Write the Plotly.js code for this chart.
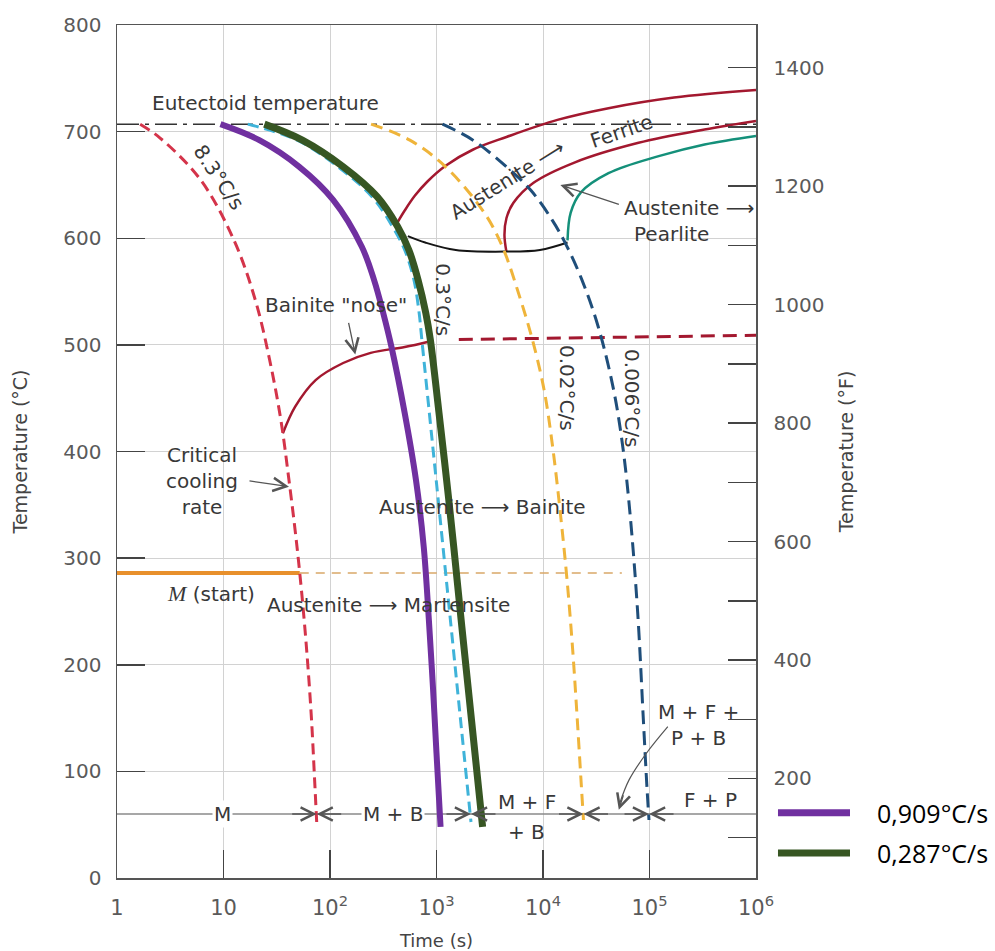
<!DOCTYPE html>
<html><head><meta charset="utf-8">
<script src="https://cdn.plot.ly/plotly-3.0.1.min.js"></script>
<style>html,body{margin:0;padding:0;background:#fff;}</style>
</head><body><div id="chart" style="width:995px;height:951px;"></div>
<script>
// ---------- data (time in s, temperature in °C) ----------
const eutectoidT = 707;
const msT = 286;            // M(start)
const markerT = 60;         // level of the product-region arrows
const xTickVals = [1, 10, 100, 1000, 10000, 100000, 1000000];
const xTickText = ['1', '10', '10<sup>2</sup>', '10<sup>3</sup>', '10<sup>4</sup>', '10<sup>5</sup>', '10<sup>6</sup>'];
const yTickVals = [0, 100, 200, 300, 400, 500, 600, 700, 800];
const fTickVals = [100, 200, 300, 400, 500, 600, 700, 800, 900, 1000, 1100, 1200, 1300, 1400];

// 8.3 °C/s (critical cooling rate)
const t83 = [1.65, 2.54, 6.07, 12.5, 19.9, 27.1, 34.5, 41.2, 48.2, 55.0, 61.4, 67.1, 71.7, 75.0];
const T83 = [707, 694, 655, 598.5, 542, 486, 430, 373, 317, 261, 204.5, 148, 92, 52.5];
// 0.3 °C/s
const t03 = [16.9, 49.2, 119, 248, 386, 503, 614, 687, 728, 857, 994, 1151, 1330, 1683, 2108];
const T03 = [707, 692, 667, 639, 611, 589, 561, 530, 505, 436, 373, 310.5, 248.6, 148, 52.5];
// 0.02 °C/s
const t002 = [243, 562, 1218, 2806, 4160, 6040, 7943, 10230, 12330, 14560, 16820, 19000, 21000, 22950, 23990];
const T002 = [707, 692, 667, 624, 592, 545, 505, 458, 404, 342, 279.5, 214, 148, 85.4, 54.4];
// 0.006 °C/s
const t0006 = [1140, 2203, 4540, 7690, 12210, 16280, 23200, 33000, 46000, 56200, 65600, 77500, 87600, 94600, 98900];
const T0006 = [707, 692, 667, 645, 617, 595, 561, 517, 458, 404, 342, 248.6, 148, 85.4, 54.4];
// measured curves
const t0909 = [9.37, 21.7, 51.5, 107, 199, 259, 316, 378, 503, 642, 759, 848, 926, 1000, 1092];
const T0909 = [707, 692, 667, 636, 592, 561, 530, 498, 436, 373, 310.5, 242, 179, 117, 48];
const t0287 = [24.2, 55.0, 133, 277, 431, 550, 671, 793, 875, 1056, 1245, 1452, 1730, 2132, 2710];
const T0287 = [707, 692, 667, 639, 611, 589, 561, 530, 505, 436, 373, 310.5, 235.5, 148, 48];
// transformation boundaries
const tBainite = [36.1, 47.1, 73.3, 133, 241, 503, 838];
const TBainite = [417, 442, 467, 483, 492.5, 498, 503];
const tBainiteD = [1620, 1000000];
const TBainiteD = [505, 509];
const tFerrite = [431, 503, 628, 818, 1218, 2188, 4540, 13650, 41200, 170000, 1000000];
const TFerrite = [615, 626, 640, 653, 668, 683, 695, 711, 722, 732, 739];
const tPearlite = [4540, 4345, 4540, 5260, 8150, 19720, 78900, 329000, 1000000];
const TPearlite = [587, 603, 619, 633, 652, 671, 689.5, 702, 710];
const tNose = [538, 783, 1517, 4540, 9360, 17000];
const TNose = [602, 596, 589, 587.5, 589, 596];
const tFinish = [17000, 18200, 22700, 41200, 122000, 329000, 1000000];
const TFinish = [598, 624, 643, 661, 677, 688, 696];
const tMs = [1, 52];
const tMsD = [52, 55000];
const tLine = [1, 1000000];
const curveEnds = [75, 2108, 24000, 99000];
const tPtr = [148600, 93500, 64300, 52500];
const TPtr = [142, 117, 92, 70];

const DARKRED = '#a3182f';
function tr(x, y, color, width, dash, shape, yaxis) {
  return {x: x, y: y, type: 'scatter', mode: 'lines', hoverinfo: 'skip',
    line: {color: color, width: width, dash: dash || 'solid', shape: shape || 'spline', smoothing: 1},
    yaxis: yaxis || 'y', showlegend: false};
}
const data = [
  tr(tLine, [markerT, markerT], '#8a8a8a', 1.5, 'solid', 'linear'),
  tr(tLine, [eutectoidT, eutectoidT], '#333', 1.5, '22px,6px,4px,6px', 'linear'),
  tr(tMsD, [msT, msT], '#d9a868', 1.5, '9px,7px', 'linear'),
  tr(tMs, [msT, msT], '#e8902c', 4, 'solid', 'linear'),
  tr(tBainite, TBainite, DARKRED, 2.5),
  tr(tBainiteD, TBainiteD, DARKRED, 3, '14px,8px', 'linear'),
  tr(tFerrite, TFerrite, DARKRED, 2.5),
  tr(tPearlite, TPearlite, DARKRED, 2.5),
  tr(tNose, TNose, '#151515', 2),
  tr(tFinish, TFinish, '#14907a', 2.5),
  tr(t83, T83, '#d4344a', 3, '11px,6px'),
  tr(t002, T002, '#efb43a', 3, '12px,7px'),
  tr(t0006, T0006, '#1f4e7a', 3, '14px,7px'),
  tr(t03, T03, '#3fb3d9', 3, '11px,6px'),
  tr(t0909, T0909, '#7030a0', 6),
  tr(t0287, T0287, '#375623', 7),
  tr(tPtr, TPtr, '#555', 1.2),
  {x: [1000000], y: [1472], type: 'scatter', mode: 'markers', yaxis: 'y2',
   marker: {opacity: 0}, hoverinfo: 'skip', showlegend: false}
];

const LF = {family: 'DejaVu Sans', size: 20, color: '#383838'};
const L = Math.log10;
function lab(text, x, y, opts) {
  return Object.assign({text: text, x: x, y: y, xref: 'x', yref: 'y', showarrow: false,
    font: LF, xanchor: 'center', yanchor: 'middle'}, opts || {});
}
function arr(x, y, ax, ay, extra) {
  return Object.assign({text: '', x: x, y: y, xref: 'x', yref: 'y', showarrow: true,
    arrowhead: 5, arrowsize: 2, arrowwidth: 1.3, arrowcolor: '#555', ax: ax, ay: ay}, extra || {});
}
const ann = [
  lab('Eutectoid temperature', 0.311, 727, {xanchor: 'left'}),
  lab('8.3°C/s', 0.953, 657, {textangle: 56}),
  lab('Bainite "nose"', 2.058, 537),
  lab('Critical<br>cooling<br>rate', 0.80, 372),
  lab('<span style="font-family:Liberation Serif;font-style:italic;font-size:22px">M</span> (start)', 0.453, 267, {xanchor: 'left'}),
  lab('Austenite ⟶ Martensite', 1.385, 256, {xanchor: 'left'}),
  lab('Austenite ⟶ Bainite', 2.44, 348, {xanchor: 'left'}),
  lab('0.3°C/s', 3.06, 542, {textangle: 90}),
  lab('0.02°C/s', 4.231, 460, {textangle: 90}),
  lab('0.006°C/s', 4.837, 450, {textangle: 90}),
  lab('Austenite ⟶', 3.66, 655, {textangle: -32}),
  lab('Ferrite', 4.74, 701, {textangle: -19}),
  lab('Austenite ⟶', 4.74, 628, {xanchor: 'left'}),
  lab('Pearlite', 4.837, 604, {xanchor: 'left'}),
  lab('M', 0.991, 60, {bgcolor: '#fff', borderpad: 1}),
  lab('M + B', 2.587, 60, {bgcolor: '#fff', borderpad: 1}),
  lab('M + F', 3.848, 71.5),
  lab('+ B', 3.848, 43),
  lab('F + P', 5.569, 73),
  lab('M + F +<br>P + B', 5.457, 143.5),
  arr(L(41.2), 367, -41, -6),
  arr(2.2375, 491, -7, -33),
  arr(4.163, 650, 60, 20),
  arr(L(51500), 64, 5, -16)
];
curveEnds.forEach(function (t) {
  ann.push(arr(L(t), markerT, -26, 0));
  ann.push(arr(L(t), markerT, 26, 0));
});
// legend (manual, outside plot)
ann.push({text: '0,909°C/s', x: 1.1862, y: 0.0766, xref: 'paper', yref: 'paper', showarrow: false,
  xanchor: 'left', yanchor: 'middle', font: {family: 'Open Sans', size: 25, color: '#000'}});
ann.push({text: '0,287°C/s', x: 1.1862, y: 0.0293, xref: 'paper', yref: 'paper', showarrow: false,
  xanchor: 'left', yanchor: 'middle', font: {family: 'Open Sans', size: 25, color: '#000'}});
const shapes = [
  {type: 'line', xref: 'paper', yref: 'paper', x0: 1.0344, x1: 1.1471, y0: 0.0766, y1: 0.0766, line: {color: '#7030a0', width: 7}},
  {type: 'line', xref: 'paper', yref: 'paper', x0: 1.0344, x1: 1.1471, y0: 0.0293, y1: 0.0293, line: {color: '#375623', width: 7}}
];

const tickF = {family: 'DejaVu Sans', size: 20, color: '#5a5a5a'};
const layout = {
  width: 995, height: 951,
  margin: {l: 117, r: 239, t: 25, b: 73, pad: 0},
  paper_bgcolor: '#fff', plot_bgcolor: '#fff',
  showlegend: false,
  font: {family: 'DejaVu Sans', color: '#444'},
  xaxis: {type: 'log', range: [0, 6], tickvals: xTickVals, ticktext: xTickText,
    ticks: 'inside', ticklen: 28, tickwidth: 1.5, tickcolor: '#444',
    showgrid: true, gridcolor: '#d2d2d2', gridwidth: 1, zeroline: false,
    showline: true, linecolor: '#555', linewidth: 1.5, mirror: true,
    tickfont: {family: 'DejaVu Sans', size: 21, color: '#5a5a5a'}, ticklabelstandoff: 10,
    title: {text: 'Time (s)', font: {family: 'DejaVu Sans', size: 18, color: '#444'}, standoff: 15}},
  yaxis: {range: [0, 800], tickvals: yTickVals, ticks: 'inside', ticklen: 28, tickwidth: 1.5,
    tickcolor: '#444', showgrid: true, gridcolor: '#d2d2d2', gridwidth: 1, zeroline: false,
    showline: true, linecolor: '#555', linewidth: 1.5, tickfont: tickF, ticklabelstandoff: 10,
    title: {text: 'Temperature (°C)', font: {family: 'DejaVu Sans', size: 19, color: '#444'}, standoff: 30}},
  yaxis2: {overlaying: 'y', side: 'right', range: [32, 1472], tickvals: fTickVals,
    ticktext: fTickVals.map(function (v) { return v % 200 === 0 ? String(v) : ''; }),
    ticks: 'inside', ticklen: 28, tickwidth: 1.5, tickcolor: '#444', showgrid: false, zeroline: false,
    showline: true, linecolor: '#555', linewidth: 1.5, tickfont: tickF, ticklabelstandoff: 12,
    title: {text: 'Temperature (°F)', font: {family: 'DejaVu Sans', size: 19, color: '#444'}, standoff: 16}},
  annotations: ann,
  shapes: shapes
};
Plotly.newPlot('chart', data, layout, {staticPlot: true, displayModeBar: false});
</script></body></html>
